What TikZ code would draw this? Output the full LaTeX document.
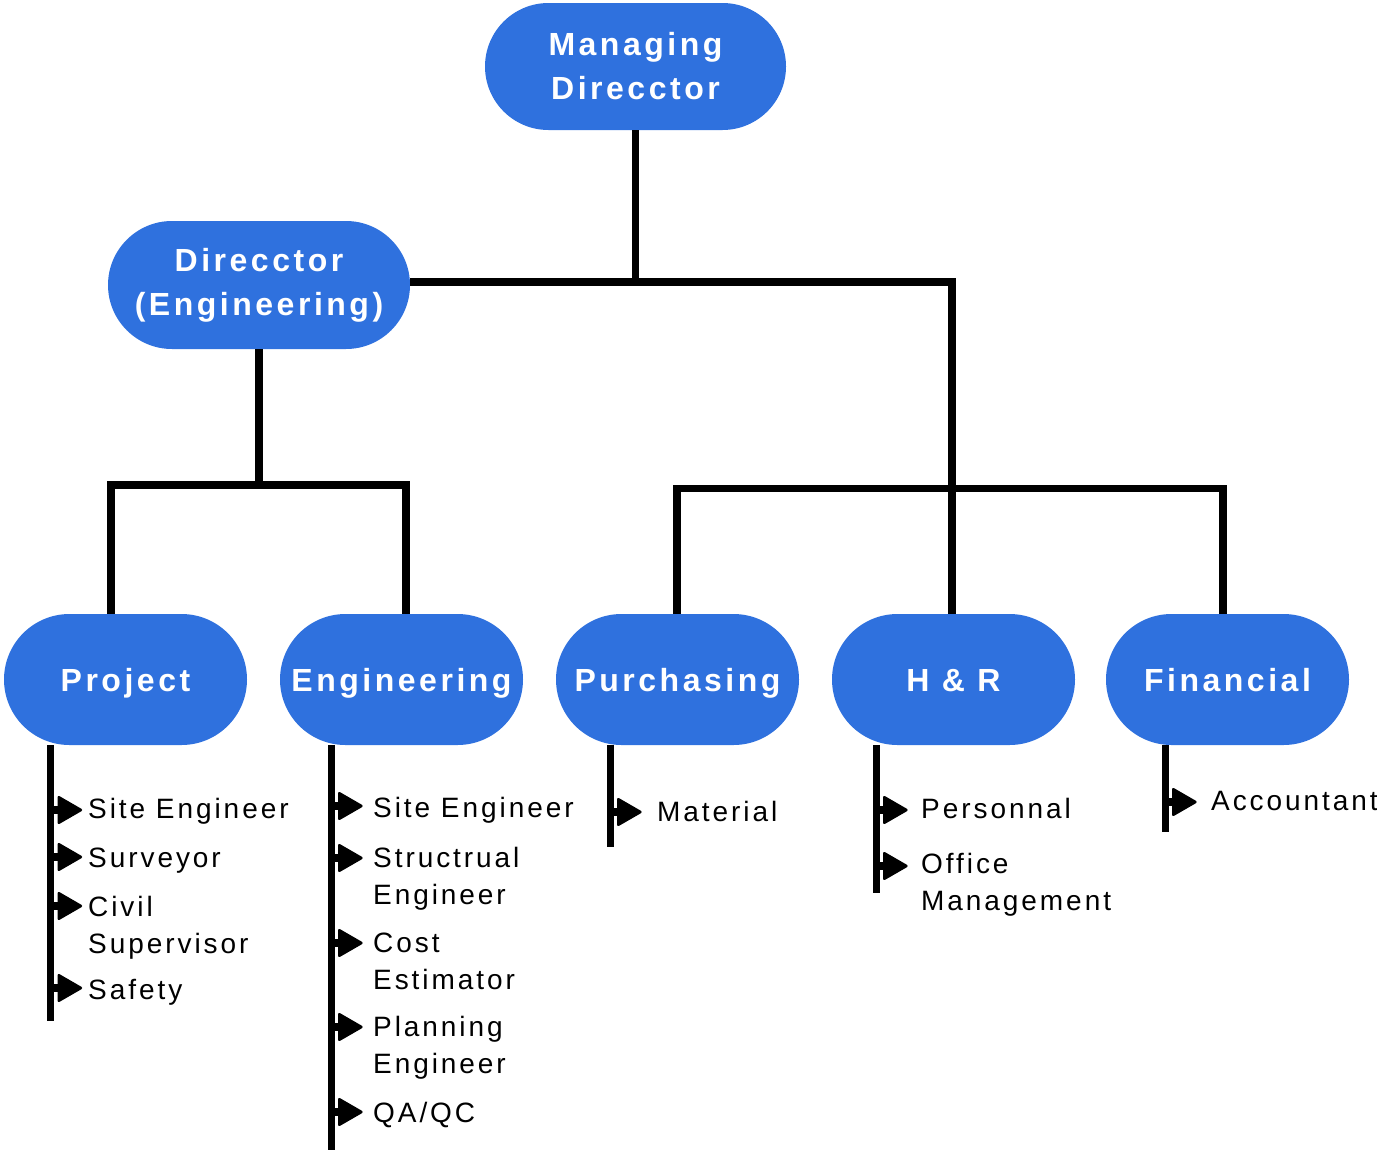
\documentclass[tikz,border=0pt]{standalone}
\usepackage{fontspec}
\setmainfont{Liberation Sans}
\newfontfamily\boxfont[LetterSpace=11]{Liberation Sans}
\newfontfamily\itemfont[LetterSpace=10.5]{Liberation Sans}
\usetikzlibrary{shapes.misc}
\definecolor{boxblue}{RGB}{47,113,222}
\tikzset{
  orgbox/.style={rounded rectangle, fill=boxblue, text=white, inner sep=0pt,
    minimum width=243pt, minimum height=131pt, align=center,
    font=\boxfont\bfseries\fontsize{32}{44}\selectfont},
  unitbox/.style={orgbox, text height=23pt, text depth=0pt},
  topbox/.style={orgbox, minimum width=301pt, minimum height=127pt},
  conn/.style={line width=7.5pt, line join=miter},
  listline/.style={line width=7pt},
  item/.style={anchor=base west, inner sep=0pt, align=left,
    font=\itemfont\fontsize{28}{37}\selectfont},
  listmark/.pic={
    \fill (0,-4) rectangle (9,4);
    \fill[rounded corners=2.5pt] (7,-15) -- (33,0) -- (7,15) -- cycle;
  }
}
\begin{document}
\begin{tikzpicture}[x=1pt,y=-1pt]
\useasboundingbox (0,0) rectangle (1377,1151);

% boxes
\node[topbox] (md) at (635.5,66.5) {Managing\\Direcctor};
\node[topbox, minimum width=302pt, minimum height=128pt] (dir) at (259,285) {Direcctor\\(Engineering)};
\node[unitbox] (proj) at (125.5,679.5) {Project};
\node[unitbox] (eng) at (401.5,679.5) {Engineering};
\node[unitbox] (pur) at (677.5,679.5) {Purchasing};
\node[unitbox] (hr) at (953.5,679.5) {H \& R};
\node[unitbox] (fin) at (1227.5,679.5) {Financial};

% connectors
\coordinate (barA) at (0,282);
\coordinate (barB) at (0,488.5);
\coordinate (barC) at (0,485);
\coordinate (hrx) at (952,0);
\coordinate (projx) at (111,0);
\coordinate (engx) at (406,0);
\coordinate (purx) at (677,0);
\coordinate (finx) at (1223,0);
\draw[conn] (md.south) -- (md.south |- barA);
\draw[conn] (dir.east |- barA) -- (hrx |- barA) -- (hrx |- hr.north);
\draw[conn] (purx |- pur.north) -- (purx |- barB) -- (finx |- barB) -- (finx |- fin.north);
\draw[conn] (dir.south) -- (dir.south |- barC);
\draw[conn] (projx |- proj.north) -- (projx |- barC) -- (engx |- barC) -- (engx |- eng.north);

% list lines
\coordinate (pl) at (50.5,1021);
\coordinate (el) at (331,1150);
\coordinate (ul) at (610,847);
\coordinate (hl) at (876,893);
\coordinate (fl) at (1165,832);
\draw[listline] (proj.south -| pl) -- (pl);
\draw[listline] (eng.south -| el) -- (el);
\draw[listline] (pur.south -| ul) -- (ul);
\draw[listline] (hr.south -| hl) -- (hl);
\draw[listline] (fin.south -| fl) -- (fl);

% Project items
\pic at (50.5,810) {listmark};
\pic at (50.5,857) {listmark};
\pic at (50.5,906) {listmark};
\pic at (50.5,988) {listmark};
\node[item] (p1) at (88,818) {Site Engineer};
\node[item] (p2) at (88,867) {Surveyor};
\node[item] (p3) at (88,953) {Civil\\Supervisor};
\node[item] (p4) at (88,999) {Safety};

% Engineering items
\pic at (331,806) {listmark};
\pic at (331,858) {listmark};
\pic at (331,943) {listmark};
\pic at (331,1027) {listmark};
\pic at (331,1112) {listmark};
\node[item] (e1) at (373,817) {Site Engineer};
\node[item] (e2) at (373,904) {Structrual\\Engineer};
\node[item] (e3) at (373,989) {Cost\\Estimator};
\node[item] (e4) at (373,1073) {Planning\\Engineer};
\node[item] (e5) at (373,1122) {QA/QC};

% Purchasing
\pic at (610,812) {listmark};
\node[item] (u1) at (657,821) {Material};

% H & R
\pic at (876,810) {listmark};
\pic at (876,866) {listmark};
\node[item] (h1) at (921,818) {Personnal};
\node[item] (h2) at (921,910) {Office\\Management};

% Financial
\pic at (1165,802) {listmark};
\node[item] (f1) at (1211,810) {Accountant};
\end{tikzpicture}
\end{document}
